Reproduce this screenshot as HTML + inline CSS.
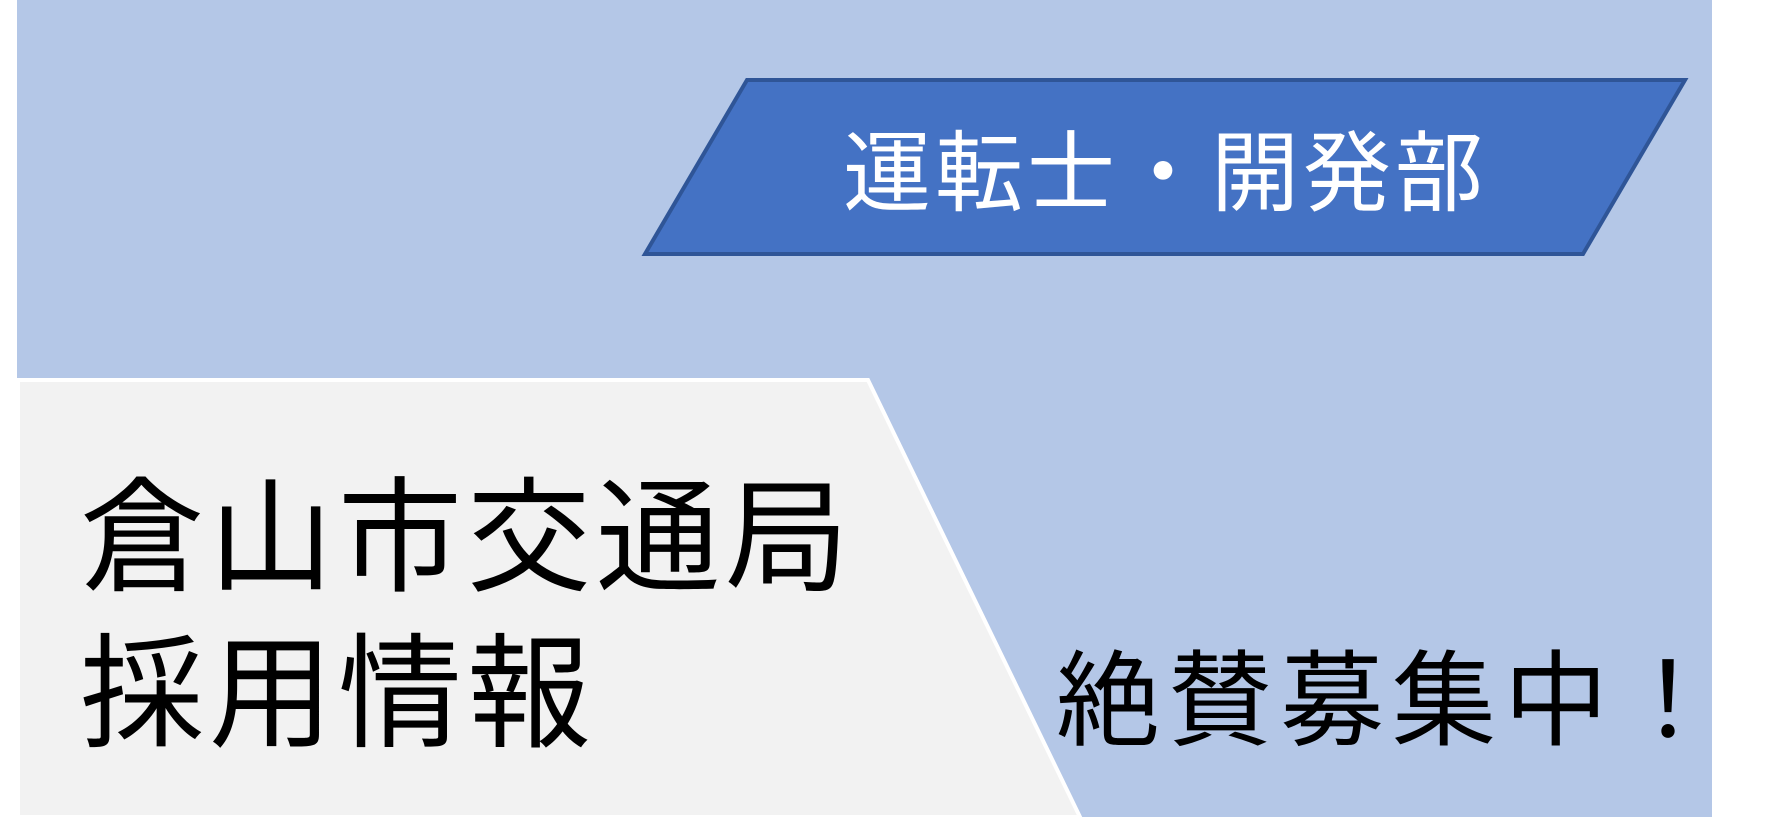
<!DOCTYPE html>
<html><head><meta charset="utf-8"><style>
html,body{margin:0;padding:0;background:#fff;width:1783px;height:832px;overflow:hidden}
.t{position:absolute;font-family:"Liberation Sans","Noto Sans CJK JP",sans-serif;white-space:nowrap;line-height:1}
</style></head><body>
<svg width="1783" height="832" style="position:absolute;left:0;top:0">
<rect x="17" y="0" width="1695" height="817" fill="#b4c7e7"/>
<polygon points="18,380 868,380 1080,817 18,817" fill="#f2f2f2" stroke="#ffffff" stroke-width="4"/>
<polygon points="747,80 1685,80 1583,254 645,254" fill="#4472c4" stroke="#2f5597" stroke-width="4"/>
</svg>
<div class="t" style="left:843px;top:130px;font-size:88px;color:#fff;letter-spacing:4px">運転士・開発部</div>
<div class="t" style="left:80px;top:477px;font-size:124px;color:#000;letter-spacing:5px">倉山市交通局</div>
<div class="t" style="left:80px;top:633px;font-size:124px;color:#000;letter-spacing:5px">採用情報</div>
<div class="t" style="left:1056px;top:650px;font-size:104px;color:#000;letter-spacing:8px">絶賛募集中！</div>
</body></html>
